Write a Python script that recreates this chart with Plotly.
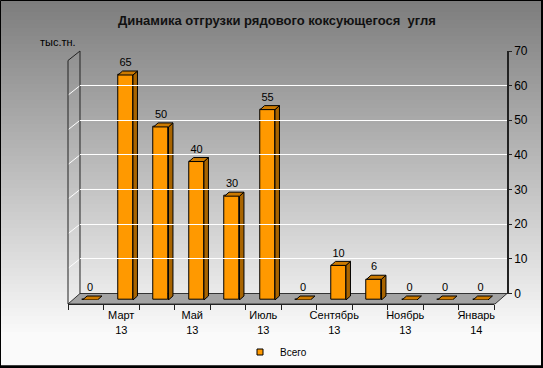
import plotly.graph_objects as go

# ---------------- data ----------------
categories = ["Февраль 13", "Март 13", "Апрель 13", "Май 13", "Июнь 13", "Июль 13",
              "Август 13", "Сентябрь 13", "Октябрь 13", "Ноябрь 13", "Декабрь 13", "Январь 14"]
values = [0, 65, 50, 40, 30, 55, 0, 10, 6, 0, 0, 0]
tick_labels = ["", "Март<br>13", "", "Май<br>13", "", "Июль<br>13",
               "", "Сентябрь<br>13", "", "Ноябрь<br>13", "", "Январь<br>14"]
y_ticks = [0, 10, 20, 30, 40, 50, 60, 70]
series_name = "Всего"
title_text = "Динамика отгрузки рядового коксующегося  угля"
unit_text = "тыс.тн."

# ---------------- geometry / style ----------------
W, H = 543, 368
L, R, T, B = 68, 507, 51, 304
PW, PH = R - L, B - T
FONT = "Liberation Sans, Arial, sans-serif"
ORANGE, SIDE, TOP = "#FF9900", "#A86400", "#CC7A00"


def px_x(p):
    return (p - L) / PW


def px_y(p):
    return (B - p) / PH


n = len(categories)
idx = list(range(n))
bar_w = 0.42
hw = bar_w / 2
cat_px = (498.25 - 72.25) / n          # pixels per category on bar axis
unit_px = (300 - 57.7) / 70            # pixels per value unit on bar axis
dx = 4.5 / cat_px
dy = 4.0 / unit_px
label_gap = 2.0 / unit_px

fig = go.Figure()

# front faces
fig.add_trace(go.Bar(x=idx, y=values, width=bar_w, name=series_name, showlegend=False,
                     marker=dict(color=ORANGE, line=dict(color="black", width=1)),
                     xaxis="x", yaxis="y2", hoverinfo="skip"))

# side faces and top faces (derived from values)
sx, sy, tx, ty = [], [], [], []
for i, v in zip(idx, values):
    if v > 0:
        sx += [i + hw, i + hw, i + hw + dx, i + hw + dx, i + hw, None]
        sy += [0, v, v + dy, dy, 0, None]
    tx += [i - hw, i + hw, i + hw + dx, i - hw + dx, i - hw, None]
    ty += [v, v, v + dy, v + dy, v, None]
fig.add_trace(go.Scatter(x=sx, y=sy, mode="lines", fill="toself", fillcolor=SIDE,
                         line=dict(color="black", width=1), xaxis="x", yaxis="y2",
                         showlegend=False, hoverinfo="skip"))
fig.add_trace(go.Scatter(x=tx, y=ty, mode="lines", fill="toself", fillcolor=TOP,
                         line=dict(color="black", width=1), xaxis="x", yaxis="y2",
                         showlegend=False, hoverinfo="skip"))

# data labels
fig.add_trace(go.Scatter(x=idx, y=[v + dy + label_gap for v in values], mode="text",
                         text=[str(v) for v in values], textposition="top center",
                         textfont=dict(family=FONT, size=11, color="black"),
                         xaxis="x", yaxis="y2", showlegend=False, hoverinfo="skip"))

# legend entry (small square like the original)
fig.add_trace(go.Scatter(x=[None], y=[None], mode="markers", name=series_name,
                         marker=dict(symbol="square", size=6, color=ORANGE,
                                     line=dict(color="black", width=1)),
                         xaxis="x", yaxis="y2", showlegend=True, hoverinfo="skip"))

# helper invisible traces so auxiliary axes render
fig.add_trace(go.Scatter(x=[0], y=[0], mode="markers", marker=dict(opacity=0),
                         xaxis="x3", yaxis="y2", showlegend=False, hoverinfo="skip"))
fig.add_trace(go.Scatter(x=[0.5], y=[0], mode="markers", marker=dict(opacity=0),
                         xaxis="x2", yaxis="y", showlegend=False, hoverinfo="skip"))

# ---------------- decorations ----------------
shapes = []
NS = 92
top_px, bot_px = 0, 368
for k in range(NS):
    y0 = top_px + (bot_px - top_px) * k / NS
    y1 = top_px + (bot_px - top_px) * (k + 1) / NS
    g = int(min(250, 125 + 0.375 * (y0 + y1) / 2))
    shapes.append(dict(type="rect", xref="paper", yref="paper", layer="below",
                       x0=px_x(0), x1=px_x(W), y0=px_y(min(H, y1 + 1.5)), y1=px_y(y0),
                       fillcolor=f"rgb({g},{g},{g})", line=dict(width=0)))
# chart border (black frame, slightly heavier right/bottom)
shapes.append(dict(type="rect", xref="paper", yref="paper", layer="below",
                   x0=px_x(0.5), x1=px_x(541.5), y0=px_y(366), y1=px_y(0.5),
                   fillcolor="rgba(0,0,0,0)", line=dict(color="black", width=1)))
shapes.append(dict(type="rect", xref="paper", yref="paper", layer="below",
                   x0=px_x(541), x1=px_x(543), y0=px_y(368), y1=px_y(0),
                   fillcolor="black", line=dict(width=0)))
shapes.append(dict(type="rect", xref="paper", yref="paper", layer="below",
                   x0=px_x(0), x1=px_x(543), y0=px_y(368), y1=px_y(365.5),
                   fillcolor="black", line=dict(width=0)))


def path(pts):
    s = "M " + " L ".join(f"{px_x(a):.5f},{px_y(b):.5f}" for a, b in pts)
    return s


# floor
shapes.append(dict(type="path", xref="paper", yref="paper", layer="below",
                   path=path([(68, 304), (80, 293.5), (507, 293.5), (495, 304)]) + " Z",
                   fillcolor="#a3a3a3", line=dict(color="#333333", width=1)))
# left wall gridline diagonals
y0px, y70px = 293.5, 51
for v in y_ticks[1:-1]:
    yy = y0px - v * (y0px - y70px) / 70
    shapes.append(dict(type="path", xref="paper", yref="paper", layer="below",
                       path=path([(68, yy + 9.5), (80, yy)]),
                       line=dict(color="white", width=1)))
# wall edges
shapes.append(dict(type="path", xref="paper", yref="paper", layer="below",
                   path=path([(68, 304), (68, 60.5), (80, 51), (80, 293.5)]),
                   line=dict(color="#222222", width=1)))

fig.update_layout(
    width=W, height=H,
    margin=dict(l=L, r=W - R, t=T, b=H - B, pad=0, autoexpand=False),
    paper_bgcolor="white", plot_bgcolor="rgba(0,0,0,0)",
    font=dict(family=FONT, color="black"),
    shapes=shapes,
    bargap=0,
    xaxis=dict(domain=[px_x(72.25), px_x(498.25)], range=[-0.5, n - 0.5],
               visible=False, anchor="y2", fixedrange=True, automargin=False),
    yaxis2=dict(domain=[px_y(300), px_y(57.7)], range=[0, 70], visible=False,
                anchor="x", fixedrange=True, automargin=False),
    xaxis2=dict(domain=[px_x(80), 1], range=[0, 1], visible=False, anchor="y",
                automargin=False),
    yaxis=dict(domain=[px_y(293.5), 1], range=[0, 70], anchor="x2", side="right",
               tickvals=y_ticks, showgrid=True, gridcolor="white", gridwidth=1,
               zeroline=False, showline=True, linecolor="#222222", linewidth=1.5,
               ticks="outside", ticklen=3, tickcolor="#222222", automargin=False,
               tickfont=dict(family=FONT, size=12, color="black")),
    xaxis3=dict(domain=[0, px_x(494)], range=[-0.5, n - 0.5], anchor="free", position=0,
                tickmode="array", tickvals=idx, ticktext=tick_labels, ticks="",
                showline=True, linecolor="#222222", linewidth=1, showgrid=False,
                zeroline=False, automargin=False, ticklabelstandoff=1,
                minor=dict(tickmode="array", tickvals=[i - 0.5 for i in range(n + 1)],
                           ticks="outside", ticklen=5, tickcolor="#222222", showgrid=False),
                tickfont=dict(family=FONT, size=11, color="black")),
    legend=dict(orientation="h", x=px_x(240), xanchor="left", y=px_y(352),
                yanchor="middle", font=dict(family=FONT, size=10), itemwidth=30,
                bgcolor="rgba(0,0,0,0)"),
    showlegend=True,
    annotations=[
        dict(text="<b>" + title_text + "</b>", xref="paper", yref="paper",
             x=px_x(277), y=px_y(20), xanchor="center", yanchor="middle", showarrow=False,
             font=dict(family=FONT, size=13, color="#111111")),
        dict(text=unit_text, xref="paper", yref="paper", x=px_x(38), y=px_y(42),
             xanchor="left", yanchor="middle", showarrow=False,
             font=dict(family=FONT, size=11, color="black")),
    ],
)

fig.write_html("out.html", config={"displayModeBar": False},
               post_script="document.body.style.margin='0';")
